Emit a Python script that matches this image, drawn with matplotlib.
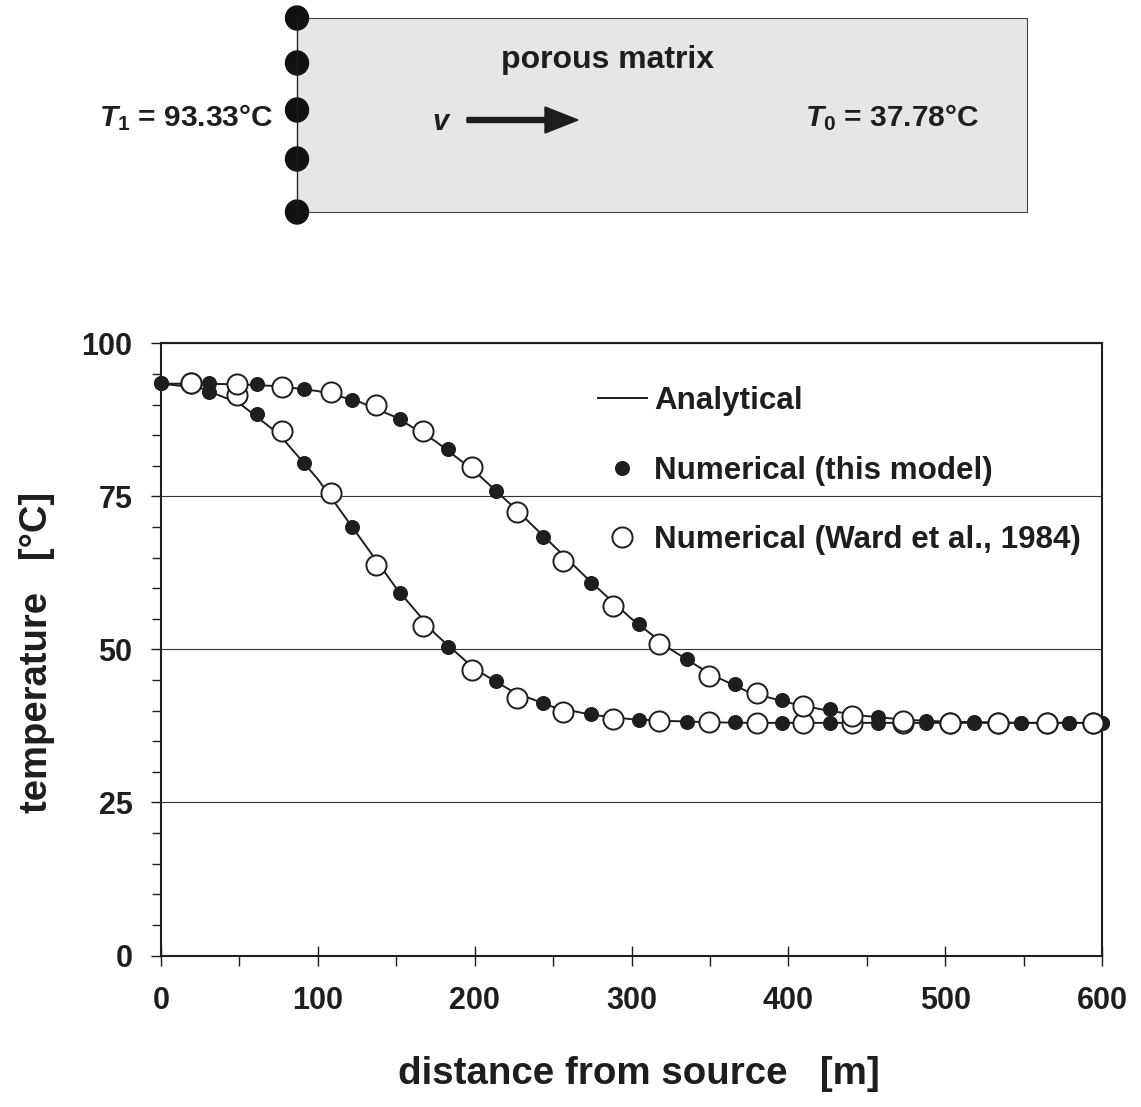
import matplotlib
matplotlib.use('Agg')
import matplotlib.pyplot as plt
from matplotlib.patches import Rectangle, Ellipse, FancyArrow
from matplotlib.lines import Line2D
from matplotlib.ticker import MultipleLocator

plt.rcParams['font.family'] = ['Liberation Sans', 'DejaVu Sans']
plt.rcParams['font.weight'] = 'bold'
plt.rcParams['mathtext.fontset'] = 'custom'
plt.rcParams['mathtext.it'] = 'Liberation Sans:italic:bold'
plt.rcParams['mathtext.rm'] = 'Liberation Sans:bold'
plt.rcParams['mathtext.bf'] = 'Liberation Sans:bold'

# ---------------- data ----------------
x_analytical = [0, 25, 50, 75, 100, 125, 150, 175, 200, 225, 250, 275, 300,
                325, 350, 375, 400, 425, 450, 475, 500, 525, 550, 575, 600]
T_analytical_early = [93.4, 92.7, 90.2, 85.2, 77.8, 68.9, 60.0, 52.5, 46.8, 43.0,
                      40.6, 39.3, 38.6, 38.3, 38.1, 38.0, 38.0, 38.0, 38.0, 38.0,
                      38.0, 38.0, 38.0, 38.0, 38.0]
T_analytical_late = [93.4, 93.4, 93.3, 93.0, 92.2, 90.6, 87.9, 84.0, 79.1, 73.2,
                     67.0, 60.8, 55.0, 50.0, 46.0, 43.0, 41.3, 40.0, 39.1, 38.5,
                     38.2, 38.1, 38.0, 38.0, 38.0]

x_model = [0, 30.48, 60.96, 91.44, 121.92, 152.4, 182.88, 213.36, 243.84, 274.32,
           304.8, 335.28, 365.76, 396.24, 426.72, 457.2, 487.68, 518.16, 548.64,
           579.12, 600]
T_model_early = [93.5, 92.0, 88.4, 80.5, 70.0, 59.2, 50.4, 44.9, 41.2, 39.4,
                 38.4, 38.2, 38.1, 38.0, 38.0, 38.0, 38.0, 38.0, 38.0, 38.0, 38.0]
T_model_late = [93.5, 93.5, 93.3, 92.5, 90.8, 87.6, 82.7, 75.9, 68.4, 60.9,
                54.1, 48.5, 44.4, 41.8, 40.2, 38.9, 38.3, 38.1, 38.0, 38.0, 38.0]

x_ward = [18.9, 48.5, 76.9, 108.2, 136.8, 167.2, 198.2, 227.2, 256.6, 288.5,
          317.8, 349.7, 380.0, 409.4, 440.7, 473.2, 503.2, 533.8, 565.1, 594.4]
T_ward_early = [93.5, 91.5, 85.6, 75.6, 63.8, 53.8, 46.6, 42.0, 39.8, 38.7,
                38.3, 38.1, 38.0, 38.0, 38.0, 38.0, 38.0, 38.0, 38.0, 38.0]
T_ward_late = [93.5, 93.3, 92.9, 92.1, 90.0, 85.6, 79.8, 72.4, 64.5, 57.1,
               50.9, 45.7, 42.8, 40.8, 39.1, 38.3, 38.0, 38.0, 38.0, 38.0]

legend_labels = ['Analytical', 'Numerical (this model)', 'Numerical (Ward et al., 1984)']
x_ticks = [0, 100, 200, 300, 400, 500, 600]
y_ticks = [0, 25, 50, 75, 100]
x_label = 'distance from source   [m]'
y_label = 'temperature   [°C]'

# ---------------- figure ----------------
W, H = 1141, 1107
fig = plt.figure(figsize=(W / 100, H / 100), dpi=100)

ax_left, ax_right, ax_top, ax_bot = 161, 1102, 343.3, 955.5
ax = fig.add_axes([ax_left / W, 1 - ax_bot / H, (ax_right - ax_left) / W, (ax_bot - ax_top) / H])

ink = '#1e1e1e'
ax.plot(x_analytical, T_analytical_early, color=ink, lw=1.4, zorder=2)
ax.plot(x_analytical, T_analytical_late, color=ink, lw=1.4, zorder=2)
for T in (T_model_early, T_model_late):
    ax.plot(x_model, T, ls='none', marker='o', ms=9.8, mfc=ink, mec=ink,
            zorder=3, clip_on=False)
for T in (T_ward_early, T_ward_late):
    ax.plot(x_ward, T, ls='none', marker='o', ms=14.5, mfc='white', mec=ink,
            mew=1.4, zorder=4, clip_on=False)

ax.set_xlim(0, 600)
ax.set_ylim(0, 100)
ax.set_xticks(x_ticks)
ax.set_yticks(y_ticks)
ax.xaxis.set_minor_locator(MultipleLocator(50))
ax.yaxis.set_minor_locator(MultipleLocator(5))
ax.tick_params(axis='x', which='major', direction='inout', length=14.4, width=1.0,
               pad=15, labelsize=22, colors=ink)
ax.tick_params(axis='x', which='minor', direction='out', length=7, width=1.0, colors=ink)
ax.tick_params(axis='y', which='major', direction='out', length=7, width=1.0,
               pad=13.5, labelsize=22, colors=ink)
ax.tick_params(axis='y', which='minor', direction='out', length=6.5, width=1.0, colors=ink)
for lab in ax.get_xticklabels() + ax.get_yticklabels():
    lab.set_fontweight('bold')

ax.yaxis.grid(True, which='major', color='#333333', lw=0.8)
for s in ax.spines.values():
    s.set_linewidth(1.5)
    s.set_color(ink)

ax.set_xlabel(x_label, fontsize=27.7, fontweight='bold', color=ink)
ax.set_ylabel(y_label, fontsize=27.5, fontweight='bold', color=ink)
ax.xaxis.set_label_coords(0.508, (ax_bot - 1056) / (ax_bot - ax_top))
ax.yaxis.set_label_coords((55 - ax_left) / (ax_right - ax_left), 0.495)

h1 = Line2D([], [], color=ink, lw=1.4)
h2 = Line2D([], [], ls='none', marker='o', ms=9.8, mfc=ink, mec=ink)
h3 = Line2D([], [], ls='none', marker='o', ms=14.5, mfc='white', mec=ink, mew=1.4)
leg = ax.legend([h1, h2, h3], legend_labels, loc='upper left',
                bbox_to_anchor=((598 - ax_left) / (ax_right - ax_left),
                                (ax_bot - 386) / (ax_bot - ax_top)),
                frameon=False, fontsize=22.6, handlelength=1.55, handletextpad=0.25,
                labelspacing=1.26, borderpad=0, borderaxespad=0)
for t in leg.get_texts():
    t.set_fontweight('bold')
    t.set_color(ink)

# ---------------- schematic on top ----------------
dax = fig.add_axes([0, 0, 1, 1])
dax.set_xlim(0, W)
dax.set_ylim(H, 0)
dax.axis('off')
dax.patch.set_visible(False)

dax.add_patch(Rectangle((297, 18), 730, 194, fc='#e6e6e6', ec='#444444', lw=0.8))
dax.plot([297, 297], [18, 212], color=ink, lw=0.9)
for yy in (18, 63, 110, 159, 212):
    dax.add_patch(Ellipse((297, yy), 23, 24, color='#111111'))

dax.text(501, 60, 'porous matrix', fontsize=23, fontweight='bold', ha='left',
         va='center', color=ink)
dax.text(441, 122, 'v', fontsize=21, fontweight='bold', style='italic',
         ha='center', va='center', color=ink)
dax.add_patch(FancyArrow(467, 120, 111, 0, width=5, head_width=26, head_length=33,
                         length_includes_head=True, color=ink))
dax.text(273, 118, r'$T_{\mathit{1}}$ = 93.33°C', fontsize=21.5, fontweight='bold',
         ha='right', va='center', color=ink)
dax.text(805, 118, r'$T_{\mathit{0}}$ = 37.78°C', fontsize=21.5, fontweight='bold',
         ha='left', va='center', color=ink)

fig.savefig('out.png', dpi=100, facecolor='white')
